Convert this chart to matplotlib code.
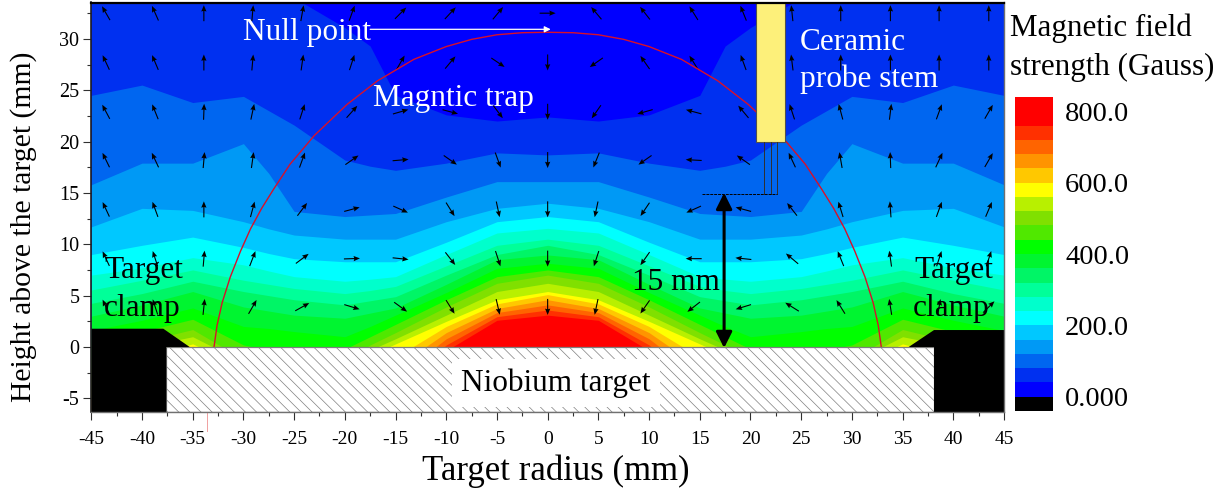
import numpy as np
import matplotlib
matplotlib.use('Agg')
import matplotlib.pyplot as plt
from matplotlib.patches import Polygon, Rectangle

plt.rcParams['font.family'] = 'Liberation Serif'
plt.rcParams['axes.unicode_minus'] = False
plt.rcParams['hatch.linewidth'] = 0.5
plt.rcParams['hatch.color'] = '#b8b8b8'

# contour heights (mm) read per column, field is mirror symmetric about x=0
x_half = np.array([0, 5, 10, 15, 17.5, 20, 25, 27.5, 30, 35, 40, 45])
level_40 = [22.4, 22.0, 22.6, 24.5, 29.3, 31.1, 34.0, 36, 38, 38, 38, 38]
level_80 = [18.7, 18.9, 17.9, 17.2, 17.6, 18.2, 21.6, 23.0, 24.4, 23.8, 25.5, 24.5]
level_120 = [16.1, 16.1, 14.6, 13.0, 12.85, 12.7, 13.2, 16.9, 19.8, 17.9, 17.9, 15.8]
level_160 = [14.0, 13.5, 12.2, 10.5, 10.5, 10.5, 10.9, 11.5, 12.2, 13.3, 13.5, 11.7]
level_200 = [12.7, 12.2, 10.2, 8.3, 8.3, 8.3, 8.6, 9.1, 9.7, 10.7, 9.9, 9.0]
level_240 = [11.55, 11.1, 9.0, 6.85, 6.6, 6.4, 6.85, 7.4, 8.0, 8.7, 7.7, 7.0]
level_280 = [10.5, 9.9, 7.9, 5.9, 5.5, 5.2, 5.7, 6.1, 6.5, 7.5, 6.5, 5.55]
level_320 = [9.9, 9.0, 7.0, 4.9, 4.5, 4.1, 4.6, 5.0, 5.4, 6.4, 5.2, 4.25]
level_360 = [8.96, 8.5, 6.1, 3.8, 3.3, 2.8, 3.1, 3.5, 3.9, 5.4, 4.1, 3.0]
level_400 = [8.15, 7.66, 5.3, 3.1, 2.0, 1.0, 1.5, 1.8, 2.0, 3.8, 2.6, 1.6]
level_440 = [7.5, 6.85, 4.6, 2.2, 1.0, -0.2, -0.6, -0.3, 0.2, 2.7, 1.5, 1.0]
level_480 = [7.0, 6.2, 3.9, 1.4, 0.2, -1.3, -1.5, -1.3, -1.2, 1.7, 0.5, 0.5]
level_520 = [6.2, 5.4, 3.1, 0.8, -0.3, -2, -2, -1.8, -1.5, 1.0, 0, 0]
level_560 = [5.4, 4.6, 2.5, 0.3, -0.8, -3, -3, -2.5, -2, 0.3, -1, -1]
level_600 = [5.1, 4.2, 2.0, -1.0, -2, -3.5, -4, -4, -4, -0.5, -2, -2]
level_640 = [4.6, 3.75, 1.4, -2, -3, -4, -5, -5, -5, -1, -3, -3]
level_680 = [4.1, 3.35, 0.8, -3, -4, -5, -5, -5, -5, -2, -4, -4]
level_720 = [3.6, 2.95, 0.2, -4, -5, -5, -5, -5, -5, -3, -5, -5]
level_760 = [3.1, 2.6, -0.35, -5, -5, -5, -5, -5, -5, -4, -5, -5]
levels = [level_40, level_80, level_120, level_160, level_200, level_240, level_280,
          level_320, level_360, level_400, level_440, level_480, level_520, level_560,
          level_600, level_640, level_680, level_720, level_760]

# one colour per 40 G band, from below 0 to above 800
band_colors = ['#000000', '#0000ff', '#0030f0', '#0066f0', '#0099f5', '#00c8ff', '#00ffff',
               '#00ffcc', '#00ff99', '#00f566', '#00f530', '#00ff00', '#50e800', '#80e000',
               '#b8f000', '#ffff00', '#ffc800', '#ff9400', '#ff6400', '#ff3000', '#ff0000',
               '#ff0000']
cbar_ticks = [0, 200, 400, 600, 800]
cbar_labels = ['0.000', '200.0', '400.0', '600.0', '800.0']

# field direction arrows
arrow_x = [-43.55, -38.7, -33.9, -29.1, -24.2, -19.3, -14.5, -9.6, -4.9, 0,
           4.8, 9.6, 14.4, 19.3, 24.1, 28.9, 33.8, 38.6, 43.5]
arrow_y = [32.5, 27.7, 22.9, 18.2, 13.4, 8.6, 3.9]
angle_325 = [120, 114, 90, 85, 80, 70, 45, 47, 50, 0, 130, 128, 122, 112, 96, 90, 90, 90, 90]
angle_277 = [115, 113, 90, 85, 82, 72, 60, 50, -34, -90, 215, 125, 122, 110, 97, 90, 90, 90, 90]
angle_229 = [118, 112, 88, 78, 72, 48, 16, -15, -53, -90, 235, 196, 165, 130, 108, 105, 83, 70, 60]
angle_182 = [116, 115, 85, 82, 70, 35, 5, -35, -70, -90, 248, 215, 177, 145, 115, 100, 92, 65, 60]
angle_134 = [115, 110, 90, 75, 53, 15, -24, -58, -78, -90, 258, 236, 204, 165, 128, 107, 94, 70, 67]
angle_86 = [115, 108, 85, 69, 37, 2, -6, -52, -72, -90, 252, 235, 180, 174, 140, 112, 98, 72, 72]
angle_39 = [115, 108, 84, 60, 29, -17, -36, -58, -77, -90, 258, 235, 218, 197, 148, 122, 99, 80, 45]
angles = [angle_325, angle_277, angle_229, angle_182, angle_134, angle_86, angle_39]

# red trap arc, right half
arc_x = np.array([0, 2.5, 5, 7.5, 10, 13.2, 16.8, 19.8, 23, 25.4, 27, 28.2, 29.3, 30.3, 31.3, 32.1, 32.6, 32.9])
arc_y = np.array([30.64, 30.6, 30.4, 29.95, 29.25, 28.0, 25.9, 23.6, 20.6, 17.8, 15.4, 13.5, 11.5, 9.3, 6.8, 4.3, 2.1, 0])

W, H = 1229, 492
fig = plt.figure(figsize=(W / 100, H / 100), dpi=100)
ax = fig.add_axes([91.3 / W, 1 - 412 / H, 912.7 / W, 409.5 / H])
y_bottom, y_top = -6.33, 33.54
ax.set_xlim(-45, 45)
ax.set_ylim(y_bottom, y_top)

# bands painted from the outermost one inwards
x_full = np.r_[-x_half[:0:-1], x_half]
ax.set_facecolor(band_colors[1])
for i, lev in enumerate(levels):
    h = np.array(lev)
    h_full = np.r_[h[:0:-1], h]
    ax.fill_between(x_full, y_bottom, h_full, color=band_colors[i + 2], lw=0, zorder=1)

# arrows
X, Y = np.meshgrid(arrow_x, arrow_y)
ang = np.radians(np.array(angles))
ax.quiver(X, Y, np.cos(ang), np.sin(ang), angles='uv', pivot='mid', scale_units='width',
          scale=57, units='width', width=0.0012, headwidth=4.8, headlength=5.8,
          headaxislength=5.2, color='k', zorder=3)

# arc
ax.plot(np.r_[-arc_x[:0:-1], arc_x], np.r_[arc_y[:0:-1], arc_y], color='#d8102a', lw=1.0, zorder=4)
ax.plot([-33.6, -33.6], [-6.4, -8.2], color='#f0a0a0', lw=0.7, clip_on=False, zorder=4)

# target and clamps
ax.add_patch(Rectangle((-37.6, y_bottom), 75.7, -y_bottom, fc='white', ec='#808080', lw=0.9,
                       hatch='\\\\\\', zorder=5))
ax.add_patch(Polygon([(-45, y_bottom), (-45, 1.78), (-37.9, 1.78), (-35.3, 0), (-37.6, 0), (-37.6, y_bottom)],
                     fc='k', ec='none', zorder=6))
ax.add_patch(Polygon([(45, y_bottom), (45, 1.65), (38.1, 1.65), (35.6, 0), (38.1, 0), (38.1, y_bottom)],
                     fc='k', ec='none', zorder=6))

# probe
ax.add_patch(Rectangle((20.55, 19.93), 2.87, 15, fc='#fdf07a', ec='#505050', lw=0.8, zorder=7))
for px in [21.35, 22.0, 22.65]:
    ax.plot([px, px], [19.93, 14.87], color='#303030', lw=0.7, zorder=7)
ax.plot([15.2, 22.65], [14.87, 14.87], color='k', lw=0.7, ls=(0, (3, 1)), zorder=7)
ax.annotate('', xy=(17.4, -0.1), xytext=(17.4, 15.0),
            arrowprops=dict(arrowstyle='<|-|>', color='k', lw=2.2, mutation_scale=24,
                            shrinkA=0, shrinkB=0), zorder=8)
ax.annotate('', xy=(0.3, 30.93), xytext=(-17.5, 30.93),
            arrowprops=dict(arrowstyle='-|>', color='white', lw=0.9, mutation_scale=9,
                            shrinkA=0, shrinkB=0), zorder=8)

# labels inside the plot
fs = 22.5
ax.text(-30, 30.6, 'Null point', color='white', fontsize=fs, va='center', zorder=9)
ax.text(-17.2, 24.2, 'Magntic trap', color='white', fontsize=fs, va='center', zorder=9)
ax.text(24.9, 29.65, 'Ceramic', color='white', fontsize=fs, va='center', zorder=9)
ax.text(24.9, 26.1, 'probe stem', color='white', fontsize=fs, va='center', zorder=9)
ax.text(-43.75, 7.4, 'Target', color='k', fontsize=fs, va='center', zorder=9)
ax.text(-43.75, 3.7, 'clamp', color='k', fontsize=fs, va='center', zorder=9)
ax.text(36.2, 7.4, 'Target', color='k', fontsize=fs, va='center', zorder=9)
ax.text(36.0, 3.7, 'clamp', color='k', fontsize=fs, va='center', zorder=9)
ax.text(8.3, 6.3, '15 mm', color='k', fontsize=fs, va='center', zorder=9)
ax.text(0.8, -3.5, 'Niobium target', color='k', fontsize=fs, va='center', ha='center', zorder=9,
        bbox=dict(boxstyle='square,pad=0.3', fc='white', ec='none'))

# axes
ax.set_xticks(np.arange(-45, 46, 5))
ax.set_xticks(np.arange(-42.5, 45, 5), minor=True)
ax.set_yticks(np.arange(-5, 31, 5))
ax.set_yticks(np.arange(-2.5, 33, 5), minor=True)
ax.tick_params(which='major', length=6, width=0.8, color='#303030', labelsize=14, pad=7.5)
ax.tick_params(which='minor', length=3, width=0.8, color='#303030')
ax.tick_params(axis='y', labelsize=14.5, pad=2.5)
for side, lw, col in [('top', 1.6, 'k'), ('left', 1.2, '#202020'), ('bottom', 1.0, '#707070'), ('right', 1.0, '#707070')]:
    ax.spines[side].set_linewidth(lw)
    ax.spines[side].set_color(col)
    ax.spines[side].set_zorder(10)
ax.set_xlabel('Target radius (mm)', fontsize=25, va='top')
ax.xaxis.set_label_coords(0.509, -0.105)
ax.set_ylabel('Height above the target (mm)', fontsize=21.3, va='bottom')
ax.yaxis.set_label_coords(-0.059, 0.452)

# colour scale
cax = fig.add_axes([1015 / W, 1 - 411 / H, 37.7 / W, 314 / H])
centers = np.arange(-20, 840, 40)
cax.barh(centers, 1, height=40, color=band_colors, lw=0)
cax.set_xlim(0, 1)
cax.set_ylim(-40, 840)
cax.set_xticks([])
cax.yaxis.tick_right()
cax.set_yticks(cbar_ticks)
cax.set_yticklabels(cbar_labels)
cax.tick_params(axis='y', length=0, labelsize=20.5, pad=9)
for s in cax.spines.values():
    s.set_visible(False)
fig.text(1010 / W, 1 - 28 / H, 'Magnetic field', fontsize=22.3, va='center')
fig.text(1010 / W, 1 - 67 / H, 'strength (Gauss)', fontsize=22.3, va='center')

fig.savefig('out.png', dpi=100)
